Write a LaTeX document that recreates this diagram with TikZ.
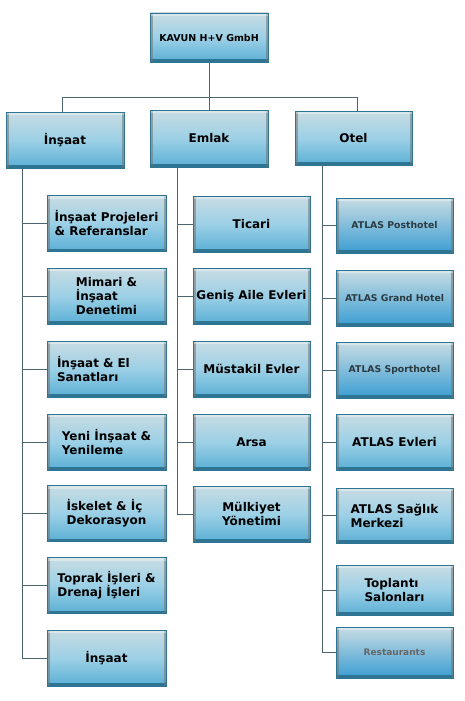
\documentclass[tikz,border=0pt]{standalone}
\usepackage{fontspec}
\setmainfont{DejaVu Sans}
\definecolor{btop}{HTML}{C8DCE3}
\definecolor{bmid}{HTML}{9CD0E6}
\definecolor{bbot}{HTML}{5AAFD5}
\definecolor{ibot}{HTML}{3A9DD2}
\definecolor{bedge}{HTML}{2E7594}
\definecolor{lnc}{HTML}{4D6570}
\definecolor{imgtxt}{HTML}{2B3A40}
\tikzset{
  x=1pt, y=-1pt,
  box/.style={minimum width=119pt, minimum height=56pt, inner xsep=3pt, inner ysep=2pt,
    top color=btop, bottom color=bbot, middle color=bmid, draw=bedge, line width=0.6pt,
    font=\fontsize{12}{14}\selectfont\bfseries, align=center, text=black,
    path picture={
      \fill[bedge] (path picture bounding box.south west) rectangle ([yshift=3pt]path picture bounding box.south east);
      \fill[black!55, opacity=0.55] (path picture bounding box.south west) rectangle ([xshift=2.5pt]path picture bounding box.north west);
      \fill[black!55, opacity=0.55] ([xshift=-2.5pt]path picture bounding box.south east) rectangle (path picture bounding box.north east);
      \fill[white, opacity=0.35] ([yshift=-3pt]path picture bounding box.north west) rectangle (path picture bounding box.north east);
    }},
  imgbox/.style={box, middle color=bmid!80!ibot, bottom color=ibot, font=\fontsize{9.3}{11}\selectfont\bfseries, text=imgtxt},
  conn/.style={draw=lnc, line width=0.8pt},
}
\begin{document}
\begin{tikzpicture}
\useasboundingbox (0,0) rectangle (464,701);
\fill[white] (0,0) rectangle (464,701);
% top and level 1
\node[box, minimum width=118pt, minimum height=49pt, font=\fontsize{9.5}{11}\selectfont\bfseries] (top) at (209,37.5) {KAVUN H+V GmbH};
\node[box, minimum width=118pt] (ins) at (65,140) {İnşaat};
\node[box, minimum width=118pt, minimum height=57pt] (eml) at (209,138.5) {Emlak};
\node[box, minimum width=117pt, minimum height=54pt] (otl) at (353.5,138) {Otel};
% İnşaat children
\node[box, align=left] (i1) at (106.5,223.5) {İnşaat Projeleri\\\& Referanslar};
\node[box, align=left] (i2) at (106.5,296) {Mimari \&\\İnşaat\\Denetimi};
\node[box, align=left, text width=99pt, inner xsep=10pt] (i3) at (106.5,369) {İnşaat \& El\\Sanatları};
\node[box, align=left] (i4) at (106.5,442) {Yeni İnşaat \&\\Yenileme};
\node[box, align=left] (i5) at (106.5,513.5) {İskelet \& İç\\Dekorasyon};
\node[box, align=left] (i6) at (106.5,585.5) {Toprak İşleri \&\\Drenaj İşleri};
\node[box] (i7) at (106.5,658) {İnşaat};
% Emlak children
\node[box, minimum width=117pt] (e1) at (251.5,224) {Ticari};
\node[box, minimum width=117pt] (e2) at (251.5,296) {Geniş Aile Evleri};
\node[box, minimum width=117pt] (e3) at (251.5,369) {Müstakil Evler};
\node[box, minimum width=117pt] (e4) at (251.5,442) {Arsa};
\node[box, minimum width=117pt] (e5) at (251.5,514) {Mülkiyet\\Yönetimi};
% Otel children
\node[imgbox, minimum width=117pt, minimum height=55pt] (o1) at (394.5,225.5) {ATLAS Posthotel};
\node[imgbox, minimum width=117pt] (o2) at (394.5,298) {ATLAS Grand Hotel};
\node[imgbox, minimum width=117pt] (o3) at (394.5,370) {ATLAS Sporthotel};
\node[box, minimum width=117pt] (o4) at (394.5,442) {ATLAS Evleri};
\node[box, minimum width=117pt, minimum height=55pt, align=left] (o5) at (394.5,515.5) {ATLAS Sağlık\\Merkezi};
\node[box, minimum width=117pt, minimum height=50pt, align=left] (o6) at (394.5,590) {Toplantı\\Salonları};
\node[imgbox, minimum width=117pt, minimum height=51pt, font=\fontsize{9}{10}\selectfont\bfseries, text=black!60] (o7) at (394.5,652.5) {Restaurants};
% connectors
\coordinate (d1) at (62,97);
\coordinate (d3) at (357,97);
\coordinate (tI) at (22,168);
\coordinate (tE) at (177,167);
\coordinate (tO) at (322,165);
\draw[conn] (top.south) -- (top.south |- d1);
\draw[conn] (d1) -- (d3);
\draw[conn] (d1) -- (d1 |- ins.north);
\draw[conn] (top.south |- d1) -- (eml.north);
\draw[conn] (d3) -- (d3 |- otl.north);
\draw[conn] (tI) |- (i7.west);
\foreach \n in {i1,i2,i3,i4,i5,i6} \draw[conn] (\n.west) -- (\n.west -| tI);
\draw[conn] (tE) |- (e5.west);
\foreach \n in {e1,e2,e3,e4} \draw[conn] (\n.west) -- (\n.west -| tE);
\draw[conn] (tO) |- (o7.west);
\foreach \n in {o1,o2,o3,o4,o5,o6} \draw[conn] (\n.west) -- (\n.west -| tO);
\end{tikzpicture}
\end{document}
